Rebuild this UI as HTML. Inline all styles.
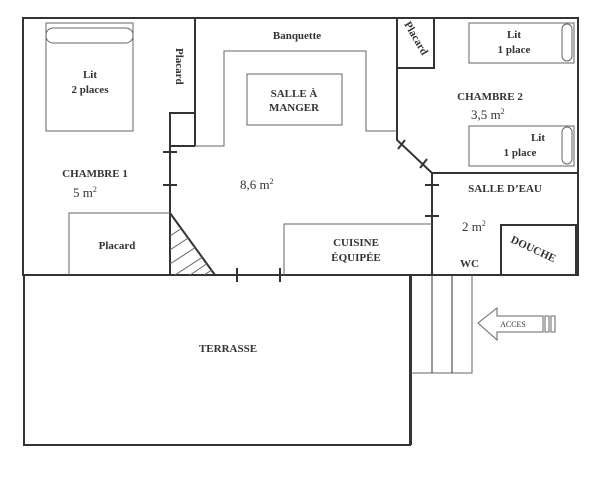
<!DOCTYPE html>
<html><head><style>
html,body{margin:0;padding:0;background:#fff;}
svg{display:block;}
text{font-family:"Liberation Serif",serif;fill:#333;}
.b{font-weight:bold;font-size:11px;}
.n{font-size:13px;}
</style></head><body>
<svg width="600" height="477" viewBox="0 0 600 477" xmlns="http://www.w3.org/2000/svg">
<defs><clipPath id="tri"><polygon points="170,213 215,275 170,275"/></clipPath></defs>
<g fill="none" stroke="#333" stroke-width="2">
<rect x="23" y="18" width="555" height="257"/>
<rect x="24" y="275" width="386" height="170"/>
<line x1="195" y1="18" x2="195" y2="146"/>
<polyline points="195,146 170,146 170,113 195,113"/>
<line x1="170" y1="146" x2="170" y2="275"/>
<line x1="163" y1="152" x2="177" y2="152"/>
<line x1="163" y1="185" x2="177" y2="185"/>
<line x1="170" y1="213" x2="215" y2="275"/>
<line x1="237" y1="268" x2="237" y2="282"/>
<line x1="280" y1="268" x2="280" y2="282"/>
<polyline points="397,18 397,140 432,173 578,173"/>
<line x1="398" y1="149" x2="405" y2="140"/>
<line x1="420" y1="168" x2="427" y2="159"/>
<rect x="397" y="18" width="37" height="50"/>
<line x1="432" y1="173" x2="432" y2="275"/>
<line x1="425" y1="185" x2="439" y2="185"/>
<line x1="425" y1="216" x2="439" y2="216"/>
<rect x="501" y="225" width="75" height="50"/>
<line x1="411" y1="275" x2="411" y2="445"/>
</g>
<g fill="none" stroke="#666" stroke-width="1">
<rect x="46" y="23" width="87" height="108"/>
<rect x="46" y="28" width="87" height="15" rx="7"/>
<polyline points="69,275 69,213 170,213"/>
<g clip-path="url(#tri)">
<line x1="170" y1="236" x2="200" y2="216"/><line x1="170" y1="250" x2="205" y2="227"/>
<line x1="170" y1="264" x2="210" y2="238"/><line x1="175" y1="275" x2="215" y2="249"/>
<line x1="190" y1="275" x2="220" y2="255"/><line x1="204" y1="275" x2="224" y2="262"/>
</g>
<polyline points="195,146 224,146 224,51 366,51 366,131 397,131"/>
<rect x="247" y="74" width="95" height="51"/>
<rect x="469" y="23" width="105" height="40"/>
<rect x="562" y="24" width="10" height="37" rx="5"/>
<rect x="469" y="126" width="105" height="40"/>
<rect x="562" y="127" width="10" height="37" rx="5"/>
<polyline points="284,275 284,224 432,224"/>
<polyline points="411,373 472,373 472,275"/>
<line x1="432" y1="275" x2="432" y2="373" stroke="#333"/>
<line x1="452" y1="275" x2="452" y2="373" stroke="#333"/>
<polygon points="478,323 497,308 497,316 543,316 543,332 497,332 497,340"/>
<rect x="545" y="316" width="4" height="16"/>
<rect x="551" y="316" width="4" height="16"/>
</g>
<text class="b" x="90" y="78" text-anchor="middle">Lit</text>
<text class="b" x="90" y="93" text-anchor="middle">2 places</text>
<text class="b" transform="translate(176,48) rotate(90)">Placard</text>
<text class="b" x="95" y="177" text-anchor="middle">CHAMBRE 1</text>
<text class="n" x="73" y="197">5 m<tspan font-size="8" dy="-5">2</tspan></text>
<text class="b" x="117" y="249" text-anchor="middle">Placard</text>
<text class="b" x="297" y="39" text-anchor="middle">Banquette</text>
<text class="b" x="294" y="97" text-anchor="middle">SALLE À</text>
<text class="b" x="294" y="111" text-anchor="middle">MANGER</text>
<text class="n" x="240" y="189">8,6 m<tspan font-size="8" dy="-5">2</tspan></text>
<text class="b" x="356" y="246" text-anchor="middle">CUISINE</text>
<text class="b" x="356" y="261" text-anchor="middle">ÉQUIPÉE</text>
<text class="b" transform="translate(404,24) rotate(60)">Placard</text>
<text class="b" x="514" y="38" text-anchor="middle">Lit</text>
<text class="b" x="514" y="53" text-anchor="middle">1 place</text>
<text class="b" x="490" y="100" text-anchor="middle">CHAMBRE 2</text>
<text class="n" x="471" y="119">3,5 m<tspan font-size="8" dy="-5">2</tspan></text>
<text class="b" x="538" y="141" text-anchor="middle">Lit</text>
<text class="b" x="520" y="156" text-anchor="middle">1 place</text>
<text class="b" x="505" y="192" text-anchor="middle">SALLE D’EAU</text>
<text class="n" x="462" y="231">2 m<tspan font-size="8" dy="-5">2</tspan></text>
<text class="b" x="460" y="267">WC</text>
<text class="b" transform="translate(510,242) rotate(25)">DOUCHE</text>
<text class="b" x="228" y="352" text-anchor="middle">TERRASSE</text>
<text x="513" y="327" font-size="8" text-anchor="middle">ACCES</text>
</svg>
</body></html>
